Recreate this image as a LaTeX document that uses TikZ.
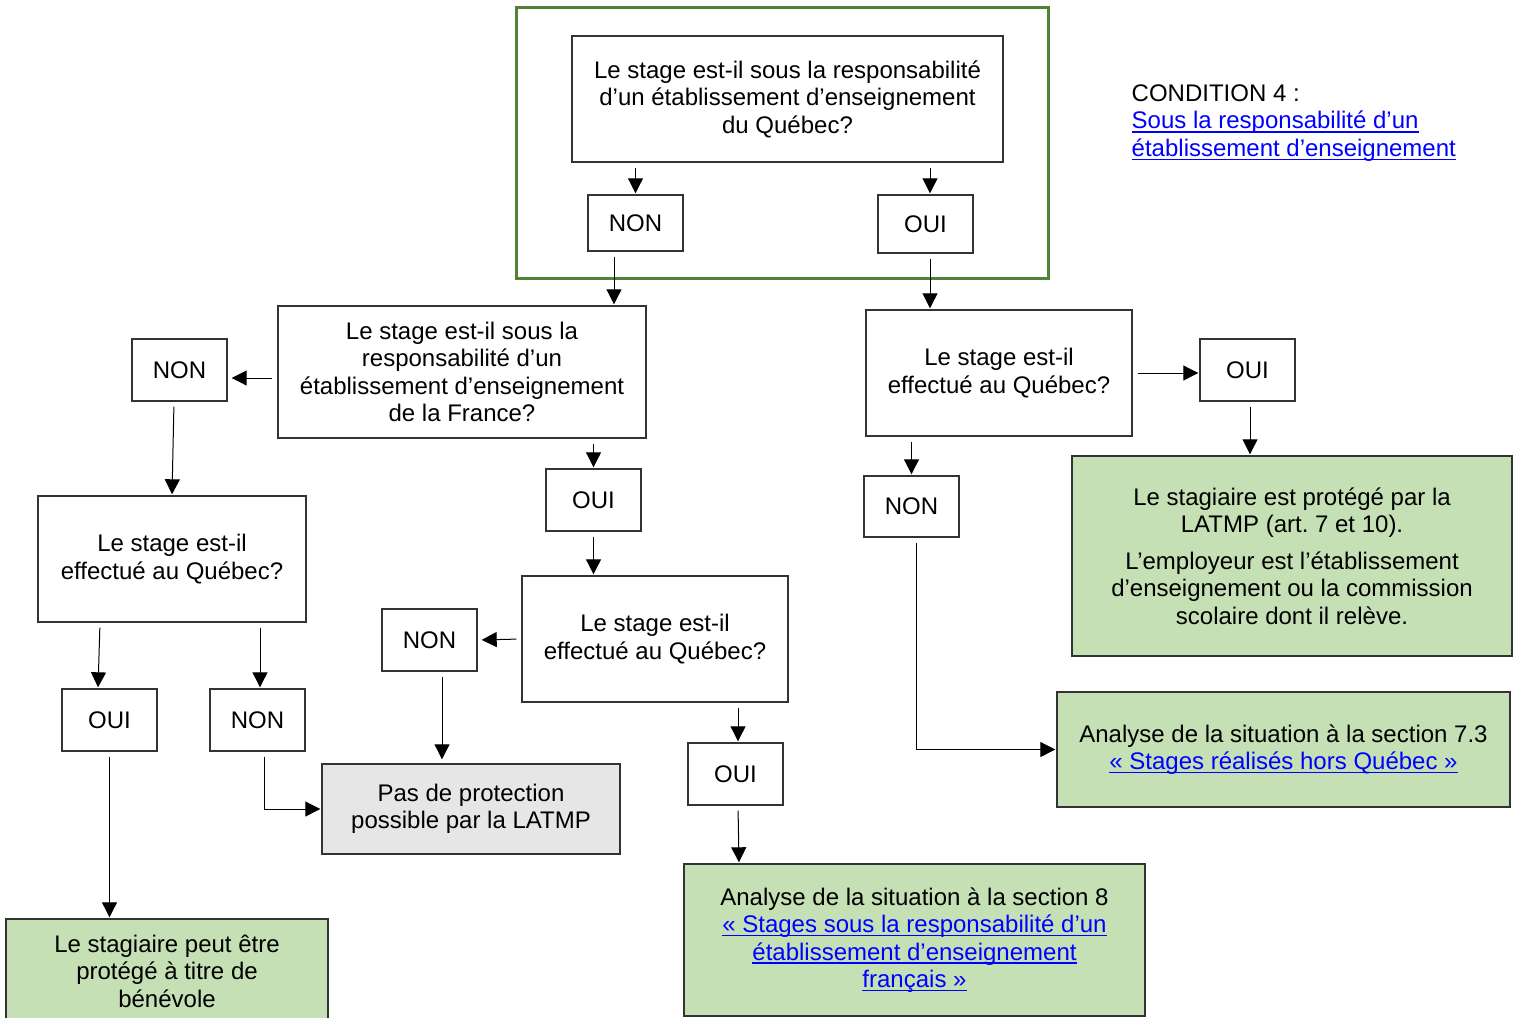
\documentclass[tikz,border=0pt]{standalone}
\usepackage{fontspec}
\setmainfont{Liberation Sans}
\usetikzlibrary{arrows.meta}
\definecolor{cadre}{RGB}{84,130,53}
\definecolor{vertpale}{RGB}{197,224,180}
\definecolor{gris}{RGB}{230,230,230}
\definecolor{bleulien}{RGB}{0,0,255}
\newcommand{\lienbleu}[1]{{\color{bleulien}\setbox0\hbox{#1}\rlap{\rule[-1.9pt]{\wd0}{0.75pt}}\box0}}
\frenchspacing
\tikzset{
	question/.style={draw=black!80, line width=0.7pt, inner sep=0pt, align=center, font=\fontsize{12}{13.75}\selectfont},
	reponse/.style={question, minimum width=47.5pt, minimum height=31pt},
	conclusion/.style={question, fill=vertpale},
	fleche/.style={-{Triangle[length=7.5pt,width=7.5pt]}, line width=0.5pt, shorten <=2.5pt, shorten >=0.5pt}
}
\begin{document}
\begin{tikzpicture}[x=0.5pt, y=-0.5pt]
	\useasboundingbox (0,0) rectangle (1518,1017);
	\draw[cadre, line width=1.5pt] (516,7) rectangle (1048,278);
	\node[question, minimum width=215.5pt, minimum height=63pt] (q1) at (787.5,99) {Le stage est-il sous la responsabilité\\d’un établissement d’enseignement\\du Québec?};
	\node[reponse, minimum height=28pt] (non1) at (635.5,223) {NON};
	\node[reponse, minimum height=29pt] (oui1) at (925.5,224) {OUI};
	\node[question, minimum width=184pt, minimum height=66pt] (q2) at (462,372) {Le stage est-il sous la\\responsabilité d’un\\établissement d’enseignement\\de la France?};
	\node[reponse] (non2) at (179.5,370) {NON};
	\node[question, minimum width=134pt, minimum height=63pt] (q4) at (172,559) {Le stage est-il\\effectué au Québec?};
	\node[reponse] (oui3) at (109.5,720) {OUI};
	\node[reponse] (non3) at (257.5,720) {NON};
	\node[conclusion, minimum width=161pt, minimum height=52pt] (ben) at (167,971) {Le stagiaire peut être\\protégé à titre de\\bénévole};
	\node[question, fill=gris, minimum width=149pt, minimum height=45pt] (pas) at (471,809) {Pas de protection\\possible par la LATMP};
	\node[reponse] (oui2) at (593.5,500) {OUI};
	\node[question, minimum width=133pt, minimum height=63pt] (q5) at (655,639) {Le stage est-il\\effectué au Québec?};
	\node[reponse] (non4) at (429.5,640) {NON};
	\node[reponse] (oui4) at (735.5,774) {OUI};
	\node[conclusion, minimum width=230.5pt, minimum height=76pt] (s8) at (914.5,940) {Analyse de la situation à la section 8\\\lienbleu{« Stages sous la responsabilité d’un}\\\lienbleu{établissement d’enseignement}\\\lienbleu{français »}};
	\node[question, minimum width=133pt, minimum height=63pt] (q3) at (999,373) {Le stage est-il\\effectué au Québec?};
	\node[reponse] (oui5) at (1247.5,370) {OUI};
	\node[conclusion, minimum width=220pt, minimum height=100pt] (prot) at (1292,556) {Le stagiaire est protégé par la\\LATMP (art. 7 et 10).\\[4.5pt]L’employeur est l’établissement\\d’enseignement ou la commission\\scolaire dont il relève.};
	\node[reponse, minimum height=30.5pt] (non5) at (911.5,506.5) {NON};
	\node[conclusion, minimum width=226.5pt, minimum height=57.5pt] (s73) at (1283.5,749.5) {Analyse de la situation à la section 7.3\\\lienbleu{« Stages réalisés hors Québec »}};
	\node[question, draw=none, anchor=north west, align=left] (cond) at (1131,84) {CONDITION 4 :\\\lienbleu{Sous la responsabilité d’un}\\\lienbleu{établissement d’enseignement}};
	\draw[fleche] (q1.south -| non1) -- (non1);
	\draw[fleche] ([xshift=2.25pt]q1.south -| oui1) -- ([xshift=2.25pt]oui1.north);
	\draw[fleche] ([xshift=-10.75pt]non1.south) -- ([xshift=-10.75pt]non1.south |- q2.north);
	\draw[fleche] ([xshift=2.25pt]oui1.south) -- ([xshift=2.25pt]oui1.south |- q3.north);
	\draw[fleche, shorten >=2pt] ([yshift=-3pt]q2.west) -- ([yshift=-3pt]q2.west -| non2.east);
	\draw[fleche] ([xshift=-2.75pt]non2.south) -- (q4.north);
	\draw[fleche] ([xshift=-36pt]q4.south) -- ([xshift=-5.75pt]oui3.north);
	\draw[fleche] ([xshift=44pt]q4.south) -- ([xshift=44pt]q4.south |- non3.north);
	\draw[fleche] (oui3.south) -- (oui3.south |- ben.north);
	\draw[fleche] ([xshift=3.25pt]non3.south) |- (pas.west);
	\draw[fleche] (q2.south -| oui2) -- (oui2);
	\draw[fleche] (oui2.south) -- (oui2.south |- q5.north);
	\draw[fleche, shorten >=2pt] (q5.west) -- (non4.east);
	\draw[fleche, shorten >=2pt] ([xshift=6.25pt]non4.south) -- ([xshift=6.25pt]non4.south |- pas.north);
	\draw[fleche] ([xshift=1.25pt]q5.south -| oui4) -- ([xshift=1.25pt]oui4.north);
	\draw[fleche] ([xshift=1.25pt]oui4.south) -- ([xshift=1.75pt]oui4.south |- s8.north);
	\draw[fleche] (q3.east) -- (q3.east -| oui5.west);
	\draw[fleche] ([xshift=1.25pt]oui5.south) -- ([xshift=1.25pt]oui5.south |- prot.north);
	\draw[fleche] (q3.south -| non5) -- (non5);
	\draw[fleche] ([xshift=2.25pt]non5.south) |- (s73.west);
\end{tikzpicture}
\end{document}
